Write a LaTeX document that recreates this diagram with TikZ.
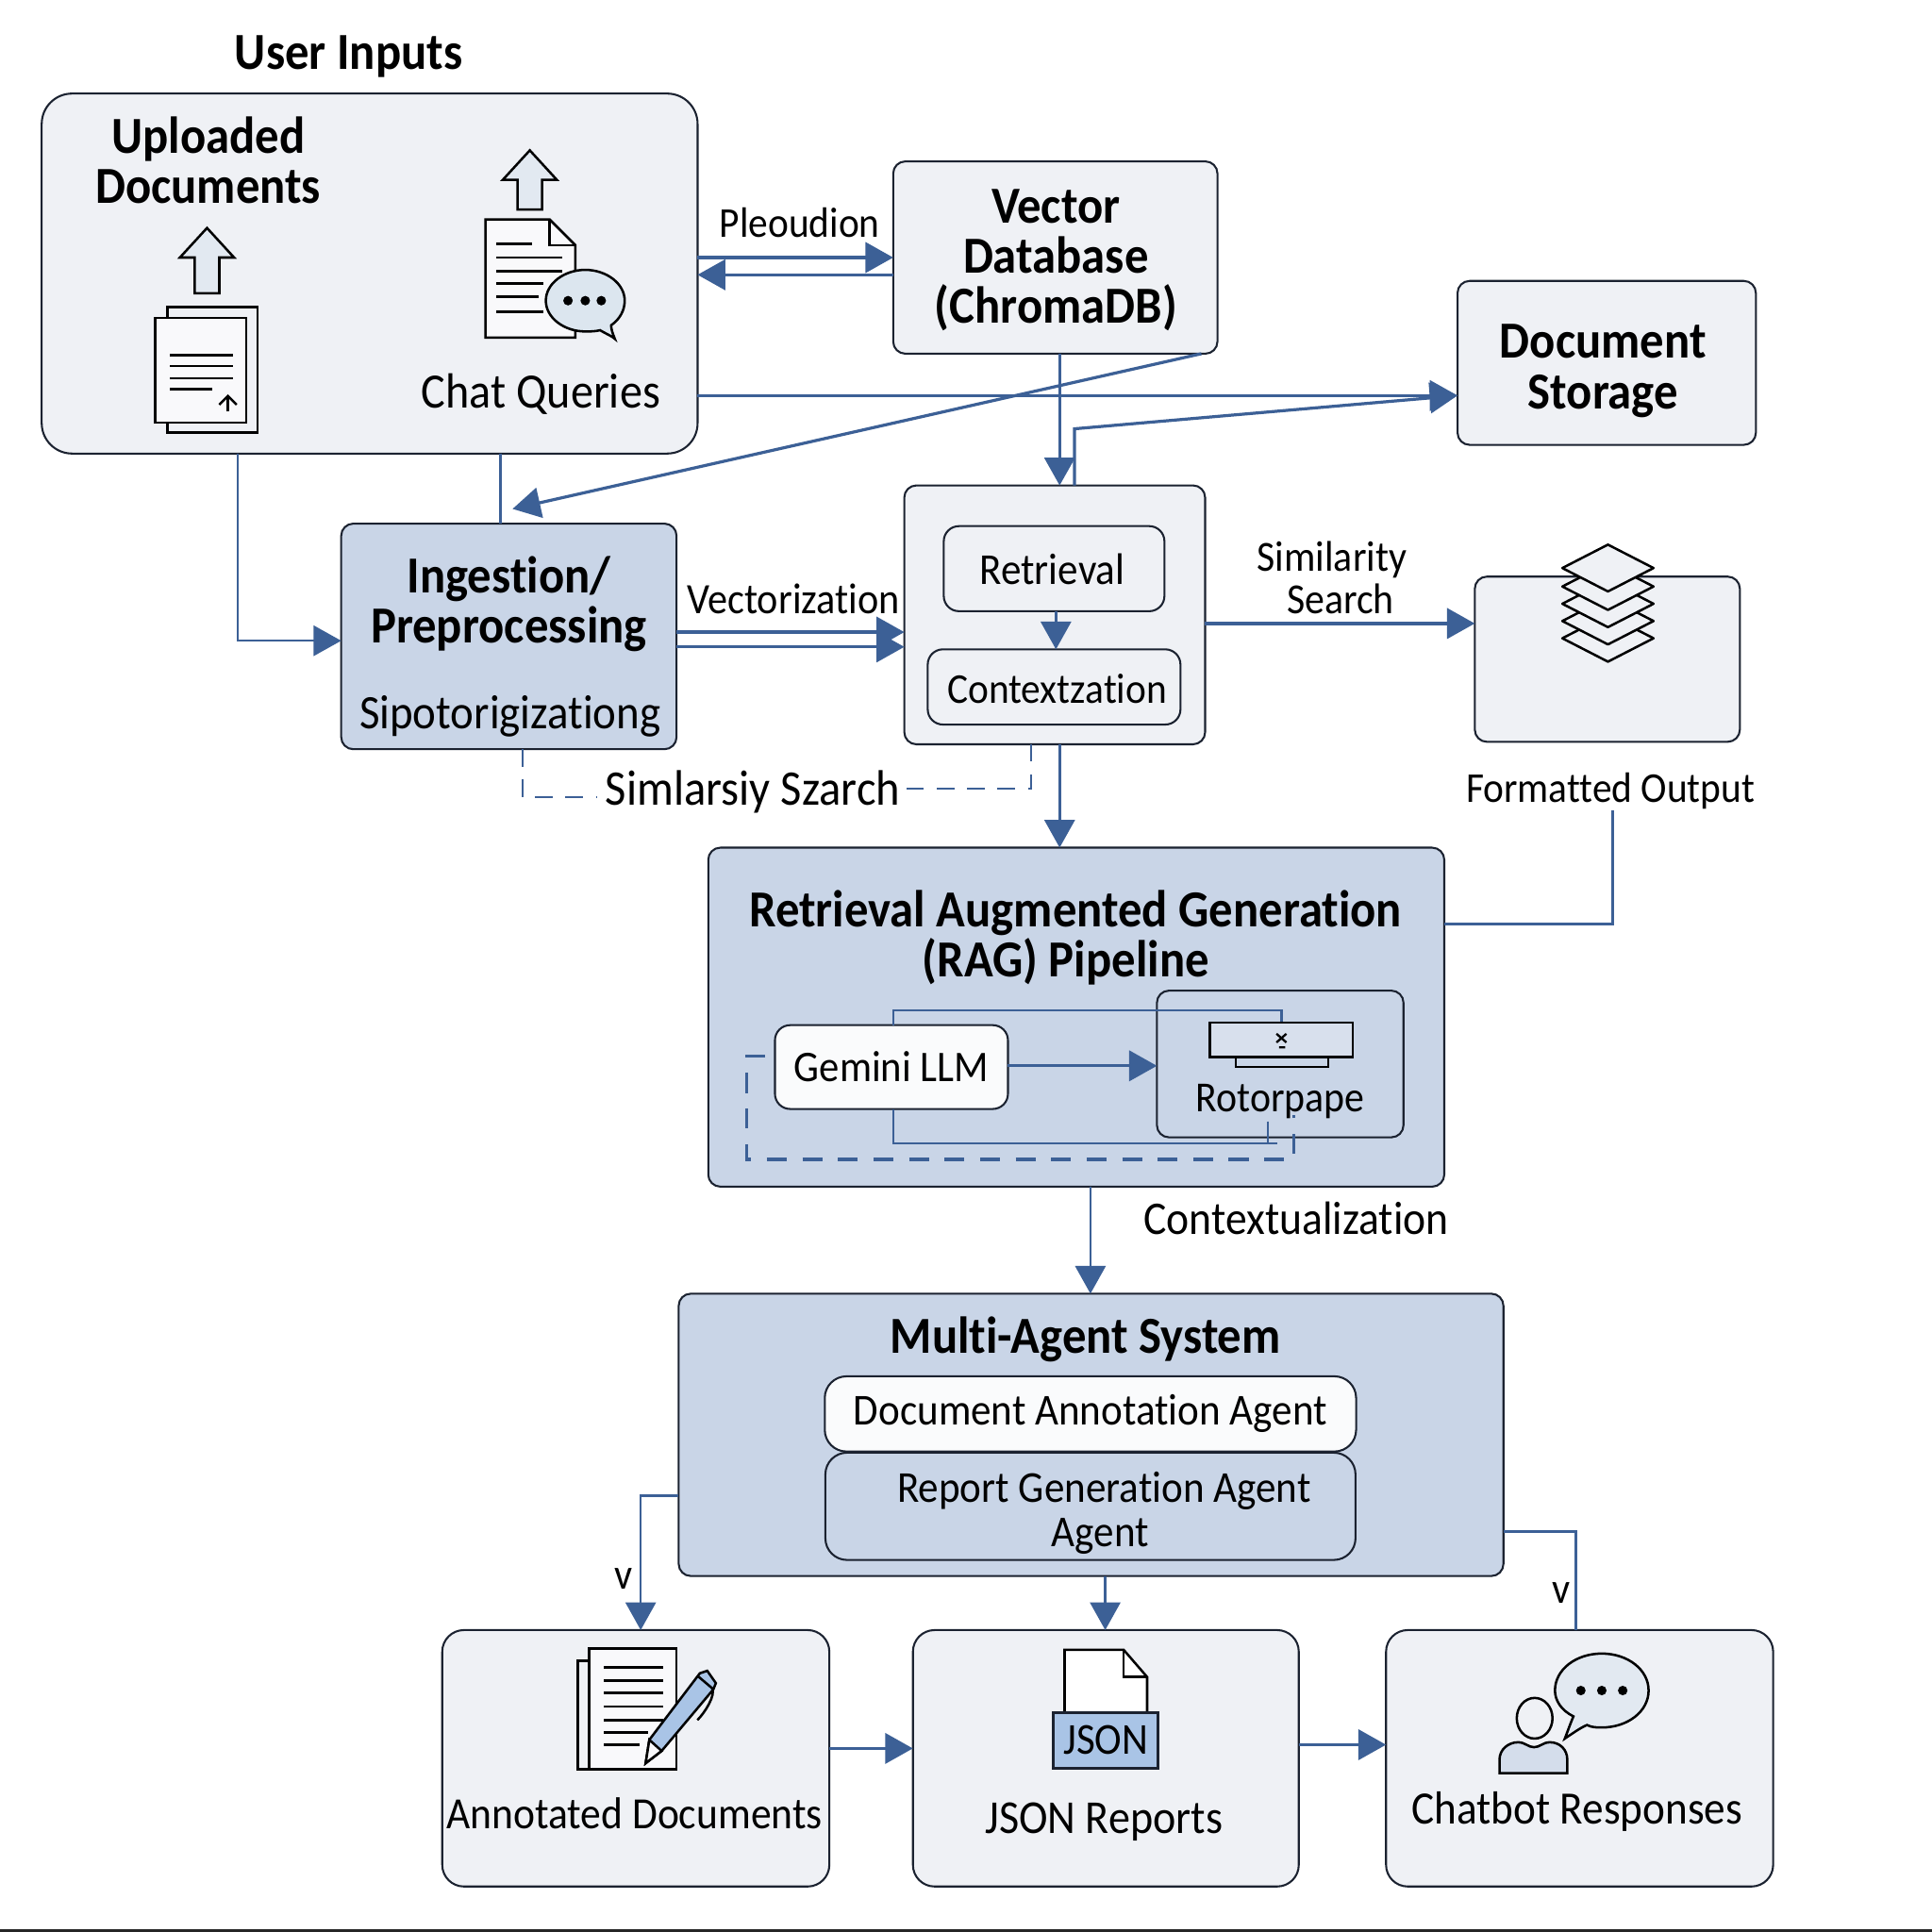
\documentclass[tikz,border=0pt]{standalone}
\usepackage{fontspec}
\setmainfont[FakeStretch=0.92,Ligatures=NoCommon]{Carlito}
\usepackage{xcolor}
\usepackage{tikz}
\usetikzlibrary{arrows.meta,positioning,calc}
\definecolor{softgray}{HTML}{EFF1F5}
\definecolor{softblue}{HTML}{C9D5E7}
\definecolor{linkblue}{HTML}{3C6096}
\definecolor{edgedark}{HTML}{1B2230}
\definecolor{iconblue}{HTML}{A9C4E6}
\definecolor{iconpale}{HTML}{DCE6EF}
\tikzset{
  box/.style={draw=edgedark, line width=0.45pt, fill=softgray, rounded corners=2.8pt, outer sep=0pt, align=center, inner sep=0pt},
  bigbox/.style={box, rounded corners=5pt},
  bluebox/.style={box, fill=softblue},
  whitebox/.style={box, fill=white!70!softgray},
  lab/.style={font=\fontsize{#1}{9.7}\selectfont, align=center, inner sep=0pt},
  lab/.default=10,
  head/.style={font=\fontsize{12}{11.6}\selectfont\bfseries, align=center, inner sep=0pt},
  arr/.style={-{Triangle[length=6.4pt,width=7pt]}, draw=linkblue, line width=0.7pt},
  link/.style={draw=linkblue, line width=0.55pt},
  dashlink/.style={draw=linkblue, line width=0.55pt, dash pattern=on 4pt off 3pt},
  icon/.style={draw=black, line width=0.55pt, line join=miter},
  textline/.style={draw=black, line width=0.6pt},
  dots/.style={fill=black, circle, inner sep=0pt, minimum size=2.2pt}
}
\begin{document}
\begin{tikzpicture}[x=0.01cm, y=-0.01cm]
\useasboundingbox (0,0) rectangle (1568,1568);
\fill[white] (0,0) rectangle (1568,1568);
\fill[black!85] (0,1565.5) rectangle (1568,1568);

% boxes
\node[bigbox, rounded corners=7pt, minimum width=5.32cm, minimum height=2.92cm] (userbox) at (300,222) {};
\node[box, minimum width=2.63cm, minimum height=1.56cm] (vectordb) at (856.5,209) {};
\node[box, minimum width=2.42cm, minimum height=1.33cm] (storage) at (1304,294.5) {};
\node[bluebox, minimum width=2.72cm, minimum height=1.83cm] (ingest) at (413,516.5) {};
\node[box, minimum width=2.44cm, minimum height=2.10cm] (retrieve) at (856,499) {};
\node[box, rounded corners=3.5pt, minimum width=1.79cm, minimum height=0.69cm] (retrieval) at (855.5,461.5) {};
\node[box, rounded corners=3.5pt, minimum width=2.05cm, minimum height=0.61cm] (context) at (855.5,557.5) {};
\node[box, minimum width=2.15cm, minimum height=1.34cm] (stackbox) at (1304.5,535) {};
\node[bluebox, minimum width=5.97cm, minimum height=2.75cm] (rag) at (873.5,825.5) {};
\node[bluebox, minimum width=2.00cm, minimum height=1.19cm] (rotor) at (1039,863.5) {};
\node[bluebox, minimum width=6.69cm, minimum height=2.29cm] (agents) at (885.5,1164.5) {};
\node[bigbox, minimum width=3.14cm, minimum height=2.08cm] (annotated) at (516,1427) {};
\node[bigbox, minimum width=3.13cm, minimum height=2.08cm] (jsonbox) at (897.5,1427) {};
\node[bigbox, minimum width=3.14cm, minimum height=2.08cm] (chatbox) at (1282,1427) {};

% connectors
\draw[arr] (userbox.east |- 0,209) -- (vectordb.west |- 0,209);
\draw[arr] (vectordb.west |- 0,223) -- (userbox.east |- 0,223);
\draw[arr] (userbox.east |- 0,321) -- (storage.west |- 0,321);
\draw[arr] (860,0 |- vectordb.south) -- (860,0 |- retrieve.north);
\draw[arr] (872,0 |- retrieve.north) -- (872,348) -- (storage.west |- 0,321);
\coordinate (ingestin) at (416,413);
\draw[arr] (975,0 |- vectordb.south) -- (ingestin);
\draw[arr, line width=0.55pt] (193,0 |- userbox.south) |- (ingest.west |- 0,520);
\draw[link] (406,0 |- userbox.south) -- (406,0 |- ingest.north);
\draw[arr] (ingest.east |- 0,513) -- (retrieve.west |- 0,513);
\draw[arr] (ingest.east |- 0,525) -- (retrieve.west |- 0,525);
\draw[arr, line width=0.55pt] (857,0 |- retrieval.south) -- (857,0 |- context.north);
\draw[arr] (retrieve.east |- 0,506) -- (stackbox.west |- 0,506);
\draw[arr, line width=0.55pt] (860,0 |- retrieve.south) -- (860,0 |- rag.north);

\node[lab=11.5] (simsearch) at (611,643) {Simlarsiy Szarch};
\draw[dashlink] (424,0 |- ingest.south) -- (424,647) -- (484,647);
\draw[dashlink] (837,0 |- retrieve.south) -- (837,640) -- (734,640);

\node[lab=9.8] (formatted) at (1307,642) {Formatted Output};
\draw[link] (rag.east |- 0,750) -| (formatted.south -| 1309,0);

\node[whitebox, rounded corners=3.5pt, minimum width=1.89cm, minimum height=0.68cm, lab=10.1] (gemini) at (723.5,866) {\raisebox{-0.4pt}{Gemini LLM}};
\draw[arr] (gemini.east |- 0,865) -- (rotor.west |- 0,865);
\draw[link] (725,0 |- gemini.north) -- (725,820) -- (1040,820) -- (1040,830);
\draw[link] (725,0 |- gemini.south) -- (725,928) -- (1037,928);
\draw[link, line width=0.4pt] (1029,910) -- (1029,928);
\draw[dashlink, line width=0.7pt, dash pattern=on 4.6pt off 3.6pt] (621,857) -- (606,857) -- (606,941) -- (1050,941) -- (1050,905);

\draw[arr, line width=0.55pt] (885,0 |- rag.south) -- (885,0 |- agents.north);
\draw[arr, line width=0.55pt] (agents.west |- 0,1214) -| (520,0 |- annotated.north);
\draw[arr, line width=0.55pt] (897,0 |- agents.south) -- (897,0 |- jsonbox.north);
\draw[link] (agents.east |- 0,1243) -| (1279,0 |- chatbox.north);
\draw[arr] (annotated.east |- 0,1419) -- (jsonbox.west |- 0,1419);
\draw[arr] (jsonbox.east |- 0,1416) -- (chatbox.west |- 0,1416);

% labels
\node[head] (userinputs) at (283,46) {User Inputs};
\node[head] (uploaded) at (169,130) {Uploaded\\Documents};
\node[lab=11.4] (chatq) at (439,320) {Chat Queries};
\node[lab=9.8] (pleoudion) at (649,181) {Pleoudion};
\node[head] (vectorlab) at (857,211) {Vector\\Database\\(ChromaDB)};
\node[head] (storagelab) at (1301,301) {Document\\Storage};
\node[head] (ingestlab) at (413,490) {Ingestion/\\Preprocessing};
\node[lab=11.1] (sipo) at (414,581) {Sipotorigizationg};
\node[lab=10] (vectorization) at (644,486) {Vectorization};
\node[lab=10.2] (retrievallab) at (854,462) {Retrieval};
\node[lab=9.8] (contextlab) at (858,559) {Contextzation};
\node[lab=9.9] (similarity) at (1081,469) {Similarity\\\hspace*{0.14cm}Search};
\node[head] (raglab) at (873,761) {Retrieval Augmented Generation\\\hspace*{-0.16cm}(RAG) Pipeline};
\node[lab=9.9] (rotorlab) at (1039,894) {Rotorpape};
\node[lab=10.8] (contextual) at (1052,989) {Contextualization};
\node[head] (agentslab) at (881,1087) {Multi-Agent System};
\node[whitebox, rounded corners=5pt, minimum width=4.31cm, minimum height=0.61cm, lab=10.2] (annotagent) at (885,1147.5) {\raisebox{-0.9pt}{Document Annotation Agent}};
\node[bluebox, rounded corners=5pt, minimum width=4.30cm, minimum height=0.87cm] (reportagent) at (885,1222.5) {};
\node[lab=10.2] (reportlab) at (896,1210) {Report Generation Agent};
\node[lab=10.2] (reportlabb) at (893,1247) {Agent};
\node[lab] (vleft) at (506,1281) {v};
\node[lab] (vright) at (1267,1293) {v};
\node[lab=10.3] (annotatedlab) at (515,1472) {Annotated Documents};
\node[lab=10.9] (jsonlab) at (896,1479) {JSON Reports};
\node[lab=10.7] (chatbotlab) at (1280,1470) {Chatbot Responses};

% icons
\draw[icon, fill=iconpale!70!softgray] (168,185) -- (190,209) -- (178,209) -- (178,238) -- (158,238) -- (158,209) -- (146,209) -- cycle;
\draw[icon, fill=softgray] (136,249) rectangle (209,351);
\draw[icon, fill=white!60!softgray] (126,258) rectangle (200,343);
\foreach \ypos in {288,297,307} \draw[textline] (138,\ypos) -- (189,\ypos);
\draw[textline] (138,316) -- (172,316);
\draw[icon, -{Straight Barb[length=2pt,width=4pt]}] (185,334) -- (185,320);

\draw[icon, fill=iconpale!70!softgray] (430,122) -- (452,146) -- (440,146) -- (440,170) -- (420,170) -- (420,146) -- (408,146) -- cycle;
\draw[icon, fill=white!60!softgray] (394,178) -- (446,178) -- (467,199) -- (467,274) -- (394,274) -- cycle;
\draw[icon] (446,178) -- (446,199) -- (467,199);
\foreach \ypos/\xend in {198/432,209/456,220/456,230/441,241/437,253/441} \draw[textline] (403,\ypos) -- (\xend,\ypos);
\draw[icon, fill=iconpale] (487,268) .. controls (494,272) and (497,273) .. (499,275) .. controls (497,270) and (496,267) .. (496,264) .. controls (503,259) and (507,252) .. (507,244) .. controls (507,230) and (492,219) .. (475,219) .. controls (458,219) and (443,230) .. (443,244) .. controls (443,258) and (458,269) .. (475,269) .. controls (479,269) and (483,269) .. (487,268) -- cycle;
\foreach \xpos in {461,475,488} \node[dots] (bubbledot\xpos) at (\xpos,244) {};

\foreach \ypos in {518,504,490,476,461} \draw[icon, line join=round, fill=softgray] (1305,\ypos-19) -- (1342,\ypos) -- (1305,\ypos+19) -- (1268,\ypos) -- cycle;

\draw[icon, fill=softblue] (1003,858) rectangle (1078,866);
\draw[icon, fill=softblue!60!softgray] (982,830) rectangle (1098,858);
\draw[textline, line width=0.5pt] (1036,839) -- (1044,846) (1044,839) -- (1036,846) (1038,850) -- (1043,850);

\draw[icon, fill=softgray] (469,1348) rectangle (549,1436);
\draw[icon, fill=white!60!softgray] (478,1338) rectangle (549,1436);
\foreach \ypos/\xend in {1353/538,1364/538,1374/538,1385/538,1396/538,1406/526,1416/519} \draw[textline] (490,\ypos) -- (\xend,\ypos);
\draw[icon, fill=iconblue] (524,1431) -- (527,1412) -- (568,1358) -- (574,1356) -- (581,1366) -- (579,1371) -- (537,1421) -- cycle;
\draw[icon, fill=white!60!softgray] (524,1431) -- (527,1412) -- (537,1421) -- cycle;
\draw[icon] (566,1360) -- (579,1371) (578,1370) .. controls (581,1376) and (572,1390) .. (566,1396);

\draw[icon, fill=white] (864,1339) -- (912,1339) -- (931,1361) -- (931,1390) -- (864,1390) -- cycle;
\draw[icon] (912,1339) -- (912,1361) -- (931,1361);
\node[draw=edgedark, line width=0.6pt, fill=iconblue, minimum width=0.85cm, minimum height=0.45cm, inner sep=0pt, lab=10.2] (jsonlabel) at (897.5,1412.5) {JSON};

\draw[icon, fill=softblue!70!softgray] (1217,1439) -- (1217,1428) .. controls (1217,1420) and (1224,1414) .. (1232,1414) .. controls (1238,1414) and (1240,1418) .. (1245,1418) .. controls (1250,1418) and (1252,1414) .. (1258,1414) .. controls (1266,1414) and (1272,1420) .. (1272,1428) -- (1272,1439) -- cycle;
\draw[icon, fill=softgray] (1245.5,1394.5) ellipse (14.5 and 16.5);
\draw[icon, fill=iconpale!70!softgray] (1277,1393) .. controls (1274,1400) and (1272,1406) .. (1270,1411) .. controls (1276,1407) and (1283,1402) .. (1288,1400) .. controls (1292,1402) and (1296,1402) .. (1300,1402) .. controls (1321,1402) and (1338,1389) .. (1338,1372) .. controls (1338,1355) and (1321,1342) .. (1300,1342) .. controls (1279,1342) and (1262,1355) .. (1262,1372) .. controls (1262,1380) and (1267,1388) .. (1277,1393) -- cycle;
\foreach \xpos in {1283,1300,1317} \node[dots] (saydot\xpos) at (\xpos,1372) {};
\end{tikzpicture}
\end{document}
